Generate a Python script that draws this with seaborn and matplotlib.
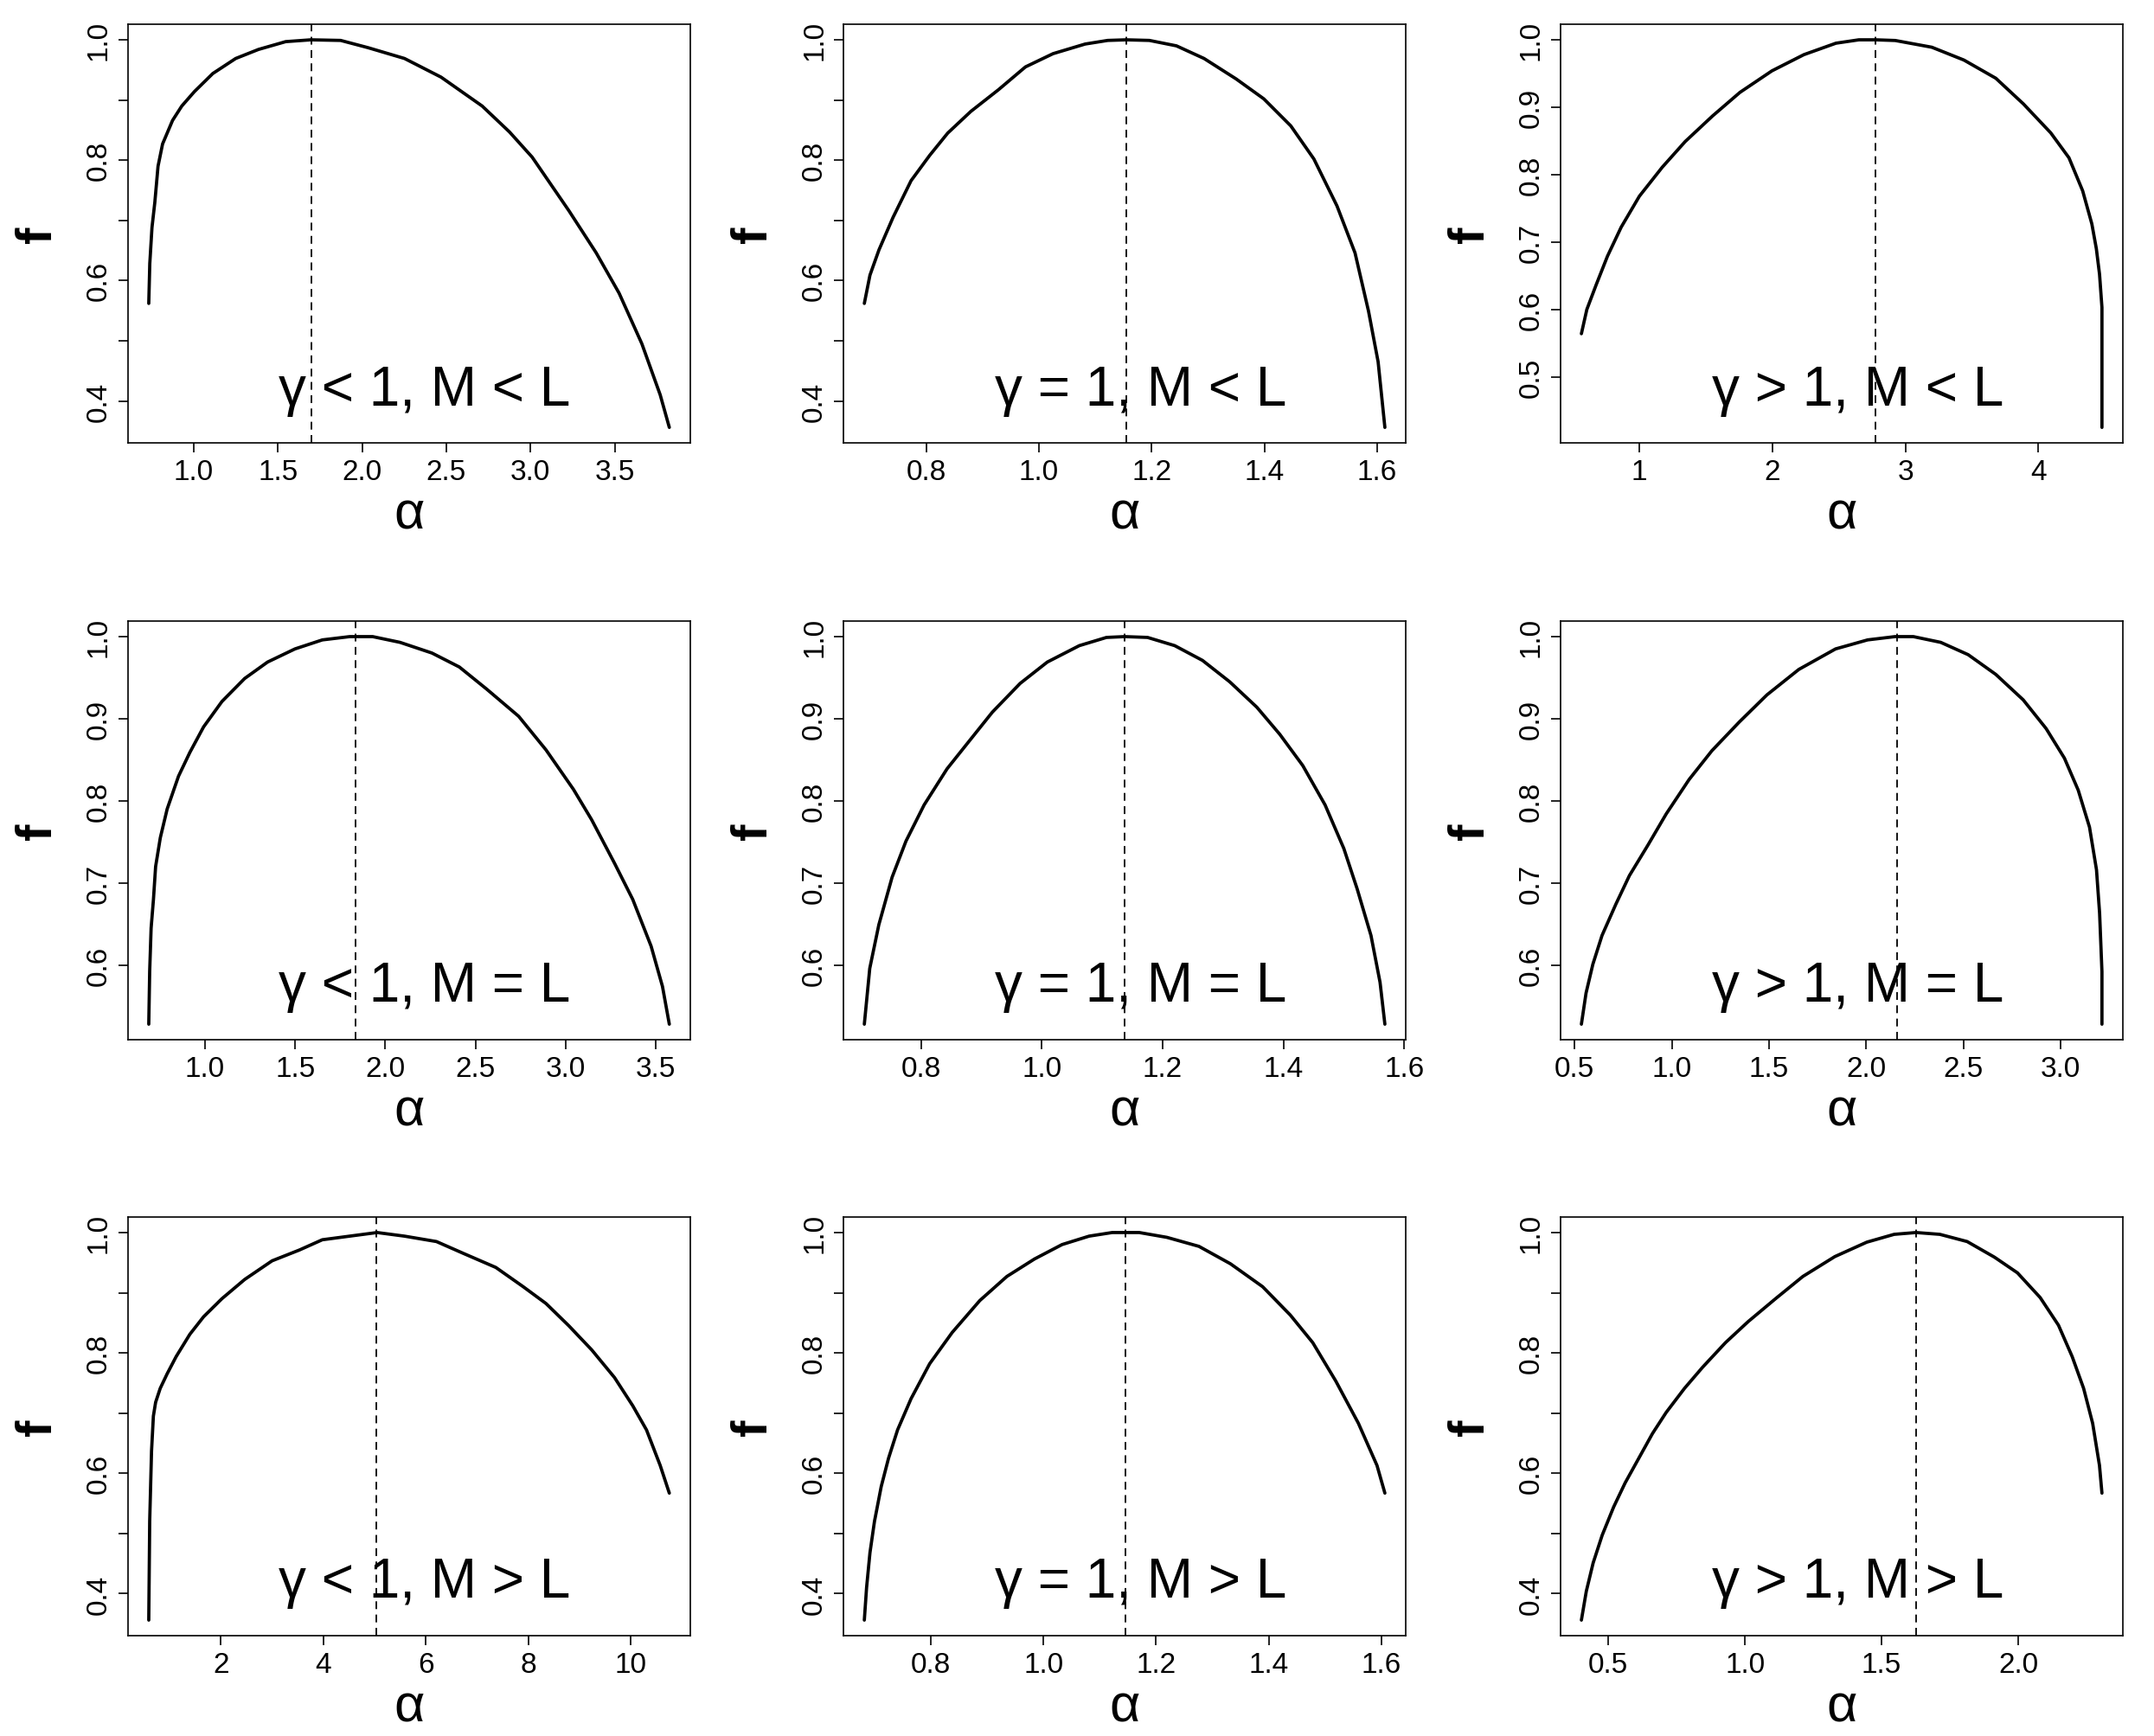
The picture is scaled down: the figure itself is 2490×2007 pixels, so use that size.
import numpy as np
import pandas as pd
import seaborn as sns
import matplotlib
matplotlib.use("Agg")
import matplotlib.pyplot as plt

# panel captions, row by row
captions = ["γ < 1, M < L", "γ = 1, M < L", "γ > 1, M < L",
            "γ < 1, M = L", "γ = 1, M = L", "γ > 1, M = L",
            "γ < 1, M > L", "γ = 1, M > L", "γ > 1, M > L"]

# spectra: alpha and f(alpha)
alpha_1 = [0.734, 0.74, 0.753, 0.77, 0.789, 0.816, 0.875, 0.93, 1.005, 1.114, 1.25, 1.385, 1.547,
           1.696, 1.873, 2.035, 2.252, 2.469, 2.713, 2.875, 3.01, 3.228, 3.39, 3.526, 3.661, 3.77, 3.824]
f_1 = [0.562, 0.628, 0.688, 0.73, 0.79, 0.827, 0.866, 0.89, 0.914, 0.944, 0.969, 0.984, 0.997,
       1.0, 0.999, 0.987, 0.969, 0.938, 0.89, 0.847, 0.805, 0.716, 0.646, 0.579, 0.495, 0.41, 0.356]

alpha_2 = [0.690, 0.700, 0.716, 0.741, 0.773, 0.806, 0.838, 0.879, 0.928, 0.976, 1.025, 1.082, 1.122,
           1.155, 1.196, 1.244, 1.293, 1.35, 1.399, 1.447, 1.488, 1.529, 1.561, 1.585, 1.602, 1.614]
f_2 = [0.562, 0.609, 0.651, 0.705, 0.766, 0.808, 0.845, 0.881, 0.917, 0.955, 0.977, 0.993, 0.999,
       1.0, 0.999, 0.99, 0.969, 0.935, 0.902, 0.857, 0.802, 0.724, 0.646, 0.549, 0.465, 0.356]

alpha_3 = [0.564, 0.605, 0.674, 0.76, 0.863, 1.0, 1.172, 1.344, 1.55, 1.756, 1.997, 2.237, 2.478,
           2.65, 2.777, 2.924, 3.199, 3.44, 3.68, 3.887, 4.093, 4.23, 4.333, 4.402, 4.436, 4.46, 4.478, 4.478]
f_3 = [0.564, 0.6, 0.636, 0.679, 0.722, 0.768, 0.811, 0.849, 0.887, 0.922, 0.954, 0.978, 0.995,
       1.0, 1.0, 0.999, 0.989, 0.97, 0.943, 0.905, 0.862, 0.825, 0.776, 0.727, 0.69, 0.652, 0.603, 0.425]

alpha_4 = [0.688, 0.693, 0.701, 0.714, 0.726, 0.752, 0.79, 0.853, 0.916, 0.992, 1.094, 1.22, 1.347, 1.499,
           1.651, 1.803, 1.93, 2.082, 2.259, 2.411, 2.563, 2.74, 2.892, 3.044, 3.145, 3.272, 3.373, 3.475, 3.538, 3.576]
f_4 = [0.528, 0.592, 0.645, 0.68, 0.72, 0.755, 0.79, 0.83, 0.859, 0.89, 0.921, 0.949, 0.969, 0.985,
       0.996, 1.0, 1.0, 0.993, 0.98, 0.963, 0.936, 0.903, 0.862, 0.814, 0.777, 0.724, 0.68, 0.623, 0.574, 0.528]

alpha_5 = [0.706, 0.715, 0.73, 0.752, 0.775, 0.805, 0.843, 0.881, 0.918, 0.964, 1.009, 1.062, 1.107, 1.137,
           1.175, 1.22, 1.266, 1.311, 1.356, 1.394, 1.432, 1.469, 1.5, 1.522, 1.545, 1.56, 1.568]
f_5 = [0.528, 0.596, 0.649, 0.707, 0.751, 0.795, 0.839, 0.874, 0.908, 0.943, 0.969, 0.989, 0.999, 1.0,
       0.999, 0.989, 0.971, 0.945, 0.914, 0.881, 0.843, 0.795, 0.742, 0.693, 0.636, 0.579, 0.528]

alpha_6 = [0.535, 0.559, 0.594, 0.641, 0.712, 0.782, 0.877, 0.971, 1.089, 1.206, 1.347, 1.489, 1.653, 1.842,
           2.007, 2.148, 2.242, 2.383, 2.524, 2.666, 2.807, 2.925, 3.019, 3.09, 3.148, 3.184, 3.2, 3.212, 3.212]
f_6 = [0.528, 0.566, 0.601, 0.636, 0.674, 0.709, 0.746, 0.784, 0.826, 0.861, 0.896, 0.929, 0.96, 0.985,
       0.996, 1.0, 1.0, 0.993, 0.978, 0.954, 0.923, 0.888, 0.852, 0.813, 0.768, 0.716, 0.663, 0.592, 0.528]

alpha_7 = [0.592, 0.61, 0.646, 0.682, 0.726, 0.815, 0.949, 1.127, 1.394, 1.661, 2.018, 2.463, 2.998, 3.532,
           3.978, 4.512, 5.047, 5.581, 6.205, 6.739, 7.363, 7.897, 8.343, 8.788, 9.234, 9.679, 10.036, 10.303,
           10.57, 10.748]
f_7 = [0.356, 0.52, 0.637, 0.695, 0.718, 0.741, 0.765, 0.794, 0.831, 0.86, 0.89, 0.922, 0.953, 0.971,
       0.988, 0.994, 1.0, 0.994, 0.985, 0.965, 0.942, 0.91, 0.882, 0.845, 0.805, 0.759, 0.712, 0.672,
       0.613, 0.567]

alpha_8 = [0.682, 0.686, 0.692, 0.7, 0.712, 0.725, 0.741, 0.765, 0.798, 0.838, 0.887, 0.935, 0.984, 1.033,
           1.081, 1.122, 1.17, 1.219, 1.276, 1.332, 1.389, 1.438, 1.478, 1.519, 1.559, 1.592, 1.606]
f_8 = [0.356, 0.41, 0.468, 0.52, 0.578, 0.625, 0.672, 0.724, 0.782, 0.834, 0.887, 0.927, 0.956, 0.98,
       0.994, 1.0, 1.0, 0.992, 0.977, 0.948, 0.91, 0.863, 0.817, 0.753, 0.683, 0.613, 0.567]

alpha_9 = [0.402, 0.42, 0.445, 0.478, 0.52, 0.562, 0.612, 0.662, 0.712, 0.779, 0.845, 0.929, 1.012, 1.112,
           1.212, 1.329, 1.446, 1.546, 1.626, 1.713, 1.813, 1.913, 1.997, 2.08, 2.147, 2.197, 2.239, 2.272,
           2.297, 2.306]
f_9 = [0.356, 0.404, 0.451, 0.497, 0.544, 0.584, 0.625, 0.666, 0.701, 0.741, 0.776, 0.817, 0.852, 0.89,
       0.927, 0.96, 0.984, 0.997, 1.0, 0.997, 0.985, 0.959, 0.933, 0.892, 0.846, 0.794, 0.741, 0.683,
       0.613, 0.567]

alphas = [alpha_1, alpha_2, alpha_3, alpha_4, alpha_5, alpha_6, alpha_7, alpha_8, alpha_9]
fs = [f_1, f_2, f_3, f_4, f_5, f_6, f_7, f_8, f_9]

# alpha at the maximum of f (dashed line)
peaks = [1.699, 1.155, 2.777, 1.836, 1.137, 2.157, 5.029, 1.146, 1.626]

# tick positions and the labels R kept
xticks = [[1.0, 1.5, 2.0, 2.5, 3.0, 3.5], [0.8, 1.0, 1.2, 1.4, 1.6], [1, 2, 3, 4],
          [1.0, 1.5, 2.0, 2.5, 3.0, 3.5], [0.8, 1.0, 1.2, 1.4, 1.6], [0.5, 1.0, 1.5, 2.0, 2.5, 3.0],
          [2, 4, 6, 8, 10], [0.8, 1.0, 1.2, 1.4, 1.6], [0.5, 1.0, 1.5, 2.0]]
xticklabels = [["1.0", "1.5", "2.0", "2.5", "3.0", "3.5"], ["0.8", "1.0", "1.2", "1.4", "1.6"],
               ["1", "2", "3", "4"],
               ["1.0", "1.5", "2.0", "2.5", "3.0", "3.5"], ["0.8", "1.0", "1.2", "1.4", "1.6"],
               ["0.5", "1.0", "1.5", "2.0", "2.5", "3.0"],
               ["2", "4", "6", "8", "10"], ["0.8", "1.0", "1.2", "1.4", "1.6"], ["0.5", "1.0", "1.5", "2.0"]]
yt_wide = [0.4, 0.5, 0.6, 0.7, 0.8, 0.9, 1.0]
yl_wide = ["0.4", "", "0.6", "", "0.8", "", "1.0"]
yticks = [yt_wide, yt_wide, [0.5, 0.6, 0.7, 0.8, 0.9, 1.0],
          [0.6, 0.7, 0.8, 0.9, 1.0], [0.6, 0.7, 0.8, 0.9, 1.0], [0.6, 0.7, 0.8, 0.9, 1.0],
          yt_wide, yt_wide, yt_wide]
yticklabels = [yl_wide, yl_wide, ["0.5", "0.6", "0.7", "0.8", "0.9", "1.0"],
               ["0.6", "0.7", "0.8", "0.9", "1.0"], ["0.6", "0.7", "0.8", "0.9", "1.0"],
               ["0.6", "0.7", "0.8", "0.9", "1.0"],
               yl_wide, yl_wide, yl_wide]

sns.set_style("ticks")
plt.rcParams['font.family'] = ['Liberation Sans', 'DejaVu Sans']
plt.rcParams['text.color'] = 'black'

fig = plt.figure(figsize=(24.9, 20.08), dpi=100)
lefts = [0.0594, 0.3916, 0.7245]
bottoms = [0.7445, 0.4009, 0.0578]

for i in range(9):
    r, c = divmod(i, 3)
    ax = fig.add_axes([lefts[c], bottoms[r], 0.261, 0.241])
    df = pd.DataFrame({"alpha": alphas[i], "f": fs[i]})
    sns.lineplot(data=df, x="alpha", y="f", ax=ax, sort=False, estimator=None,
                 color="black", linewidth=2.7)
    ax.margins(x=0.04, y=0.04)
    ax.axvline(peaks[i], color="black", linewidth=1.3, linestyle=(0, (5, 3.5)))

    ax.set_xticks(xticks[i])
    ax.set_xticklabels(xticklabels[i])
    ax.set_yticks(yticks[i])
    ax.set_yticklabels(yticklabels[i])
    ax.tick_params(axis="both", direction="out", length=8, width=1.2,
                   labelsize=24, colors="black", pad=5)
    for lab in ax.get_yticklabels():
        lab.set_rotation(90)
        lab.set_va("center")

    for s in ax.spines.values():
        s.set_linewidth(1.2)
        s.set_color("black")

    ax.set_xlabel("α", fontsize=44, color="black")
    ax.set_ylabel("f", fontsize=42, fontweight="bold", color="black")
    ax.xaxis.set_label_coords(0.5, -0.172)
    ax.xaxis.label.set_va("center")
    ax.yaxis.set_label_coords(-0.160, 0.5)
    ax.yaxis.label.set_va("center")

    ax.text(0.528, 0.092, captions[i], transform=ax.transAxes, fontsize=46,
            ha="center", va="baseline", color="black")

fig.savefig("out.png", dpi=100)
